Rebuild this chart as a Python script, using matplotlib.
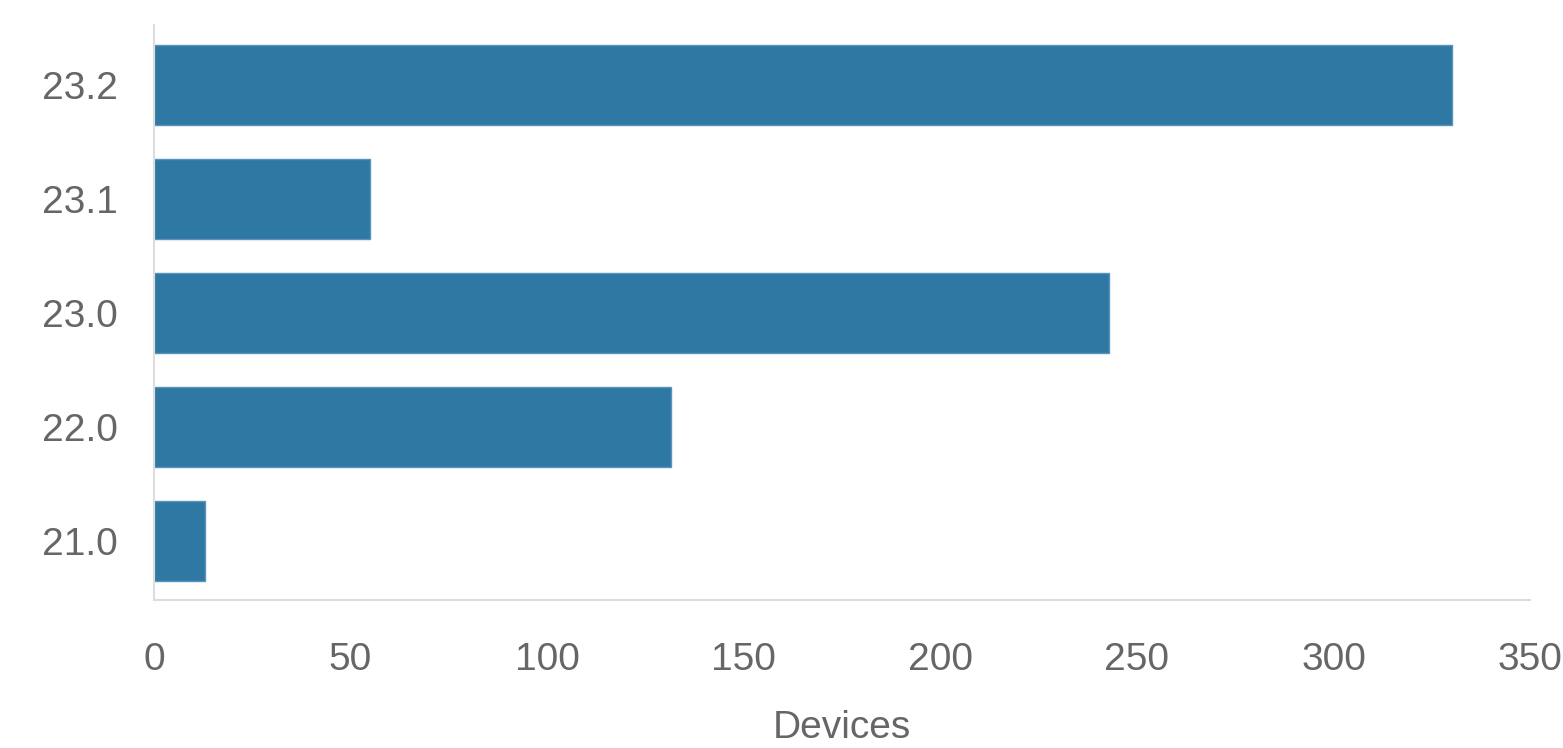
import matplotlib.pyplot as plt

plt.rcParams['font.family'] = ['Liberation Sans', 'DejaVu Sans']

versions = ['21.0', '22.0', '23.0', '23.1', '23.2']
devices = [13, 131.5, 243, 55, 330]

fig = plt.figure(figsize=(15.63, 7.48), dpi=100)
ax = fig.add_axes([0.0985, 0.198, 0.8805, 0.769])

ax.barh(versions, devices, height=0.7, color='#2F78A3', edgecolor='#5A94BC', linewidth=1)

ax.set_xlim(0, 350)
ax.set_ylim(-0.52, 4.53)
ax.set_xticks(range(0, 351, 50))

for s in ['top', 'right']:
    ax.spines[s].set_visible(False)
for s in ['left', 'bottom']:
    ax.spines[s].set_color('#dddddd')
    ax.spines[s].set_linewidth(1.5)

ax.tick_params(axis='both', length=0, labelsize=28, labelcolor='#666666')
ax.tick_params(axis='x', pad=30)
ax.tick_params(axis='y', pad=26)
ax.set_xlabel('Devices', fontsize=28, color='#666666', labelpad=23)

fig.savefig('out.png', dpi=100)
